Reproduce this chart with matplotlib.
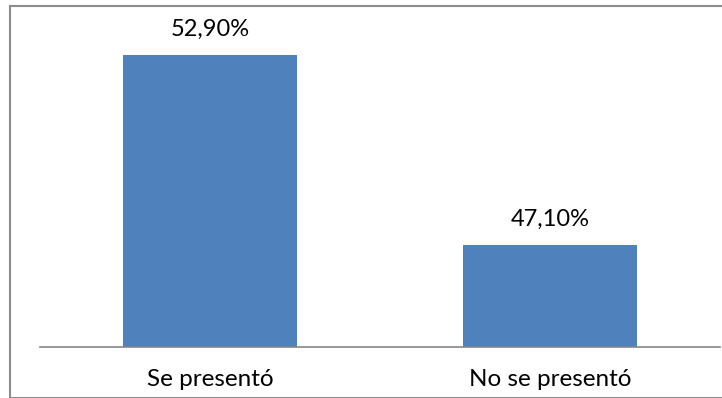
import matplotlib
matplotlib.use("Agg")
import matplotlib.pyplot as plt
from matplotlib.patches import Rectangle

categorias = ["Se presentó", "No se presentó"]
valores = [52.90, 47.10]
etiquetas = ["52,90%", "47,10%"]

plt.rcParams['font.family'] = ['Lato', 'DejaVu Sans']

W, H = 722, 398
fig = plt.figure(figsize=(W / 100, H / 100), dpi=100)
ax = fig.add_axes([40 / W, (H - 347) / H, 680 / W, 328 / H])

x = range(len(categorias))
bars = ax.bar(x, valores, width=0.51, color="#4f81bd", zorder=2)
ax.set_xlim(-0.5, 1.5)
ax.set_ylim(44, 54)

for b, t in zip(bars, etiquetas):
    ax.annotate(t, (b.get_x() + b.get_width() / 2, b.get_height()),
                xytext=(0, 11), textcoords="offset points",
                ha="center", va="bottom", fontsize=17, color="black")

ax.set_xticks(list(x))
ax.set_xticklabels(categorias, fontsize=17.5)
ax.tick_params(axis="x", length=0, pad=16)
ax.set_yticks([])
for s in ["top", "right", "left"]:
    ax.spines[s].set_visible(False)
ax.spines["bottom"].set_color("#868686")
ax.spines["bottom"].set_linewidth(1.2)

# marco exterior del grafico
fig.patches.append(Rectangle((9.5 / W, 0.5 / H), 1.0, (H - 6) / H,
                             transform=fig.transFigure, fill=False,
                             edgecolor="#8c8c8c", linewidth=1.5))

fig.savefig("out.png", dpi=100)
